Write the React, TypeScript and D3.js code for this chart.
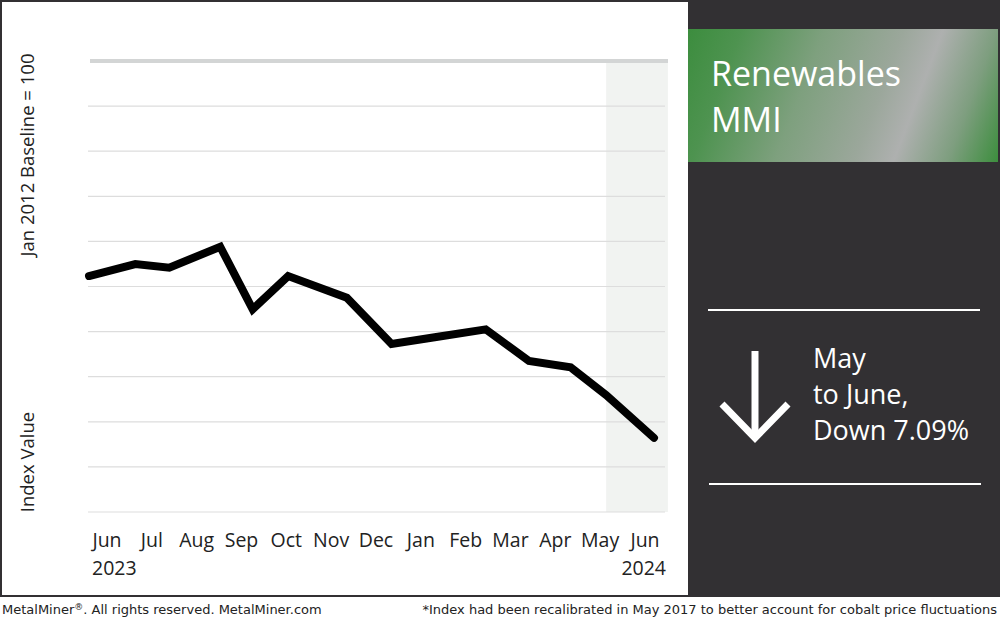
import React from "react";
import * as d3 from "d3";

const monthLabels = ["Jun", "Jul", "Aug", "Sep", "Oct", "Nov", "Dec", "Jan", "Feb", "Mar", "Apr", "May", "Jun"];
const yearLabels = ["2023", "2024"];
const pointDates = [
  "2023-06-01", "2023-07-01", "2023-07-23", "2023-08-25", "2023-09-15", "2023-10-08",
  "2023-11-15", "2023-12-14", "2024-01-13", "2024-02-13", "2024-03-12", "2024-04-08",
  "2024-05-01", "2024-06-01",
];
const indexValues = [801.6, 814.9, 810.8, 834.1, 764.7, 801.6, 777.6, 726.3, 734.3, 742.5, 707.4, 700.4, 669.7, 622.2];
const yTicks = [540, 590, 640, 690, 740, 790, 840, 890, 940, 990, 1040];
const shadeStart = "2024-05-01";
const shadeEnd = "2024-06-10";

const W = 1000;
const H = 622;
const DARK = "#323033";

export default function App() {
  const parse = d3.timeParse("%Y-%m-%d");
  const data = pointDates.map((d, i) => ({ date: parse(d) as Date, value: indexValues[i] }));

  const x = d3.scaleTime().domain([parse("2023-06-01") as Date, parse("2024-06-01") as Date]).range([89, 654]);
  const y = d3.scaleLinear().domain([540, 1040]).range([512, 61]);
  const xLab = d3.scalePoint<number>().domain(monthLabels.map((_, i) => i)).range([107, 645]);

  const line = d3.line<{ date: Date; value: number }>().x((d) => x(d.date)).y((d) => y(d.value));

  const sx0 = x(parse(shadeStart) as Date);
  const sx1 = x(parse(shadeEnd) as Date);

  return (
    <svg width={W} height={H} style={{ position: "absolute", left: 0, top: 0 }} viewBox={`0 0 ${W} ${H}`}>
      <defs>
        <linearGradient id="banner" gradientUnits="userSpaceOnUse" x1={688} y1={29} x2={1003} y2={148}>
          <stop offset="0" stopColor="#3c8d3e" />
          <stop offset="0.15" stopColor="#4e9350" />
          <stop offset="0.38" stopColor="#7ea07e" />
          <stop offset="0.6" stopColor="#9ba79b" />
          <stop offset="0.71" stopColor="#aeb0af" />
          <stop offset="0.86" stopColor="#7e9e7f" />
          <stop offset="1" stopColor="#3d8e3e" />
        </linearGradient>
      </defs>
      <rect x={0} y={0} width={W} height={H} fill="#ffffff" />
      {/* left white panel with border */}
      <rect x={1} y={1} width={688} height={595} fill="#ffffff" stroke={DARK} strokeWidth={2} />
      {/* right dark panel */}
      <rect x={688} y={0} width={312} height={597} fill={DARK} />
      <rect x={688} y={29} width={310} height={133} fill="url(#banner)" />
      <text x={711} y={86} fill="#ffffff" fontFamily="'Open Sans', sans-serif" fontSize={34}>Renewables</text>
      <text x={711} y={132} fill="#ffffff" fontFamily="'Open Sans', sans-serif" fontSize={34}>MMI</text>

      <line x1={708} x2={980} y1={310} y2={310} stroke="#ffffff" strokeWidth={2} />
      <line x1={709} x2={981} y1={484} y2={484} stroke="#ffffff" strokeWidth={2} />
      <g stroke="#ffffff" strokeWidth={7} fill="none">
        <line x1={755} x2={755} y1={351} y2={438} />
        <polyline points="722,404 755,438 788,404" strokeLinejoin="miter" />
      </g>
      <g fill="#ffffff" fontFamily="'Open Sans', sans-serif" fontSize={27}>
        <text x={813} y={368}>May</text>
        <text x={813} y={404}>to June,</text>
        <text x={813} y={440}>Down 7.09%</text>
      </g>

      {/* shaded latest month */}
      <rect x={sx0} y={y(1040)} width={sx1 - sx0} height={y(540) - y(1040)} fill="#f1f3f1" />
      {/* gridlines */}
      {yTicks.map((t, i) =>
        i === yTicks.length - 1 ? (
          <line key={t} x1={90} x2={668} y1={y(t)} y2={y(t)} stroke="#d3d5d5" strokeWidth={4} />
        ) : (
          <line key={t} x1={88} x2={665} y1={y(t)} y2={y(t)} stroke="#dddddd" strokeWidth={1.2} />
        )
      )}
      <path d={line(data) || ""} fill="none" stroke="#000000" strokeWidth={8} strokeLinejoin="miter" strokeLinecap="round" />

      {/* x labels */}
      <g fontFamily="'Open Sans', sans-serif" fontSize={19.5} fill="#222222">
        {monthLabels.map((m, i) => (
          <text key={i} x={xLab(i)} y={547} textAnchor="middle">{m}</text>
        ))}
        <text x={92} y={575} textAnchor="start">{yearLabels[0]}</text>
        <text x={666} y={575} textAnchor="end">{yearLabels[1]}</text>
      </g>

      {/* y axis title */}
      <g fontFamily="'Open Sans', sans-serif" fontSize={18.5} fill="#222222">
        <text transform="translate(34,155) rotate(-90)" textAnchor="middle">Jan 2012 Baseline = 100</text>
        <text transform="translate(34,462) rotate(-90)" textAnchor="middle">Index Value</text>
      </g>

      {/* footer */}
      <g fontFamily="'DejaVu Sans', Verdana, sans-serif" fontSize={13} fill="#222222">
        <text x={2} y={614}>MetalMiner<tspan fontSize={9} dy={-4}>®</tspan><tspan dy={4}>. All rights reserved. MetalMiner.com</tspan></text>
        <text x={997} y={614} textAnchor="end">*Index had been recalibrated in May 2017 to better account for cobalt price fluctuations</text>
      </g>
    </svg>
  );
}
